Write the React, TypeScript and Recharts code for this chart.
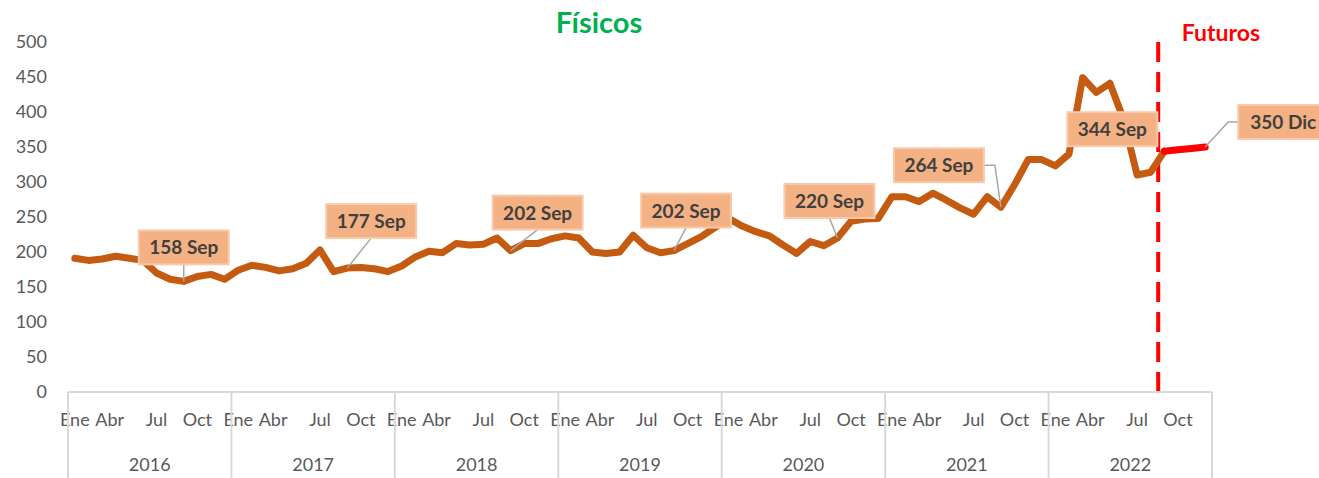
import React from 'react'
import { LineChart, Line, XAxis, YAxis, ReferenceLine } from 'recharts'

const MONTHS = ['Ene', 'Feb', 'Mar', 'Abr', 'May', 'Jun', 'Jul', 'Ago', 'Sep', 'Oct', 'Nov', 'Dic']
const YEARS = [2016, 2017, 2018, 2019, 2020, 2021, 2022]
const SHOWN_MONTHS = ['Ene', 'Abr', 'Jul', 'Oct']
const Y_TICKS = [0, 50, 100, 150, 200, 250, 300, 350, 400, 450, 500]

// physical prices, Jan..Dec of each year (2022 ends in Sep)
const FISICOS_2016 = [191, 188, 190, 194, 191, 188, 170, 161, 158, 165, 168, 161]
const FISICOS_2017 = [174, 181, 178, 173, 176, 184, 203, 172, 177, 178, 176, 172]
const FISICOS_2018 = [180, 193, 201, 199, 212, 210, 211, 220, 202, 212, 212, 219]
const FISICOS_2019 = [223, 220, 200, 198, 200, 224, 206, 199, 202, 212, 222, 235]
const FISICOS_2020 = [248, 237, 229, 223, 210, 198, 215, 209, 220, 244, 247, 248]
const FISICOS_2021 = [279, 279, 272, 284, 274, 263, 254, 279, 264, 296, 332, 332]
const FISICOS_2022 = [323, 340, 449, 428, 441, 390, 310, 314, 344]
// futures, Sep..Dec 2022
const FUTUROS_2022 = [344, 346, 348, 350]

const FISICOS = [
  ...FISICOS_2016, ...FISICOS_2017, ...FISICOS_2018, ...FISICOS_2019,
  ...FISICOS_2020, ...FISICOS_2021, ...FISICOS_2022,
]
const FUT_START = FISICOS.length - 1

const data = YEARS.flatMap((y, yi) =>
  MONTHS.map((m, mi) => {
    const i = yi * 12 + mi
    return {
      key: `${m} ${y}`,
      month: m,
      fisicos: i < FISICOS.length ? FISICOS[i] : null,
      futuros: i >= FUT_START ? FUTUROS_2022[i - FUT_START] : null,
    }
  })
)

// layout
const W = 1319
const H = 478
const LEFT = 68
const RIGHT = 107
const TOP = 42
const BOTTOM = 86
const STEP = (W - LEFT - RIGHT) / data.length

const FONT = 'Lato, "Open Sans", sans-serif'
const AXIS_GRAY = '#595959'
const SEP_GRAY = '#d9d9d9'

// callout labels: offset of the box centre from the point, leader style
const CALLOUTS = [
  { key: 'Sep 2016', series: 'fisicos', dx: 0, dy: -34, leader: 'bottom' },
  { key: 'Sep 2017', series: 'fisicos', dx: 24, dy: -47, leader: 'bottom' },
  { key: 'Sep 2018', series: 'fisicos', dx: 27, dy: -38, leader: 'bottom' },
  { key: 'Sep 2019', series: 'fisicos', dx: 12, dy: -40, leader: 'bottom' },
  { key: 'Sep 2020', series: 'fisicos', dx: -8, dy: -37, leader: 'bottom' },
  { key: 'Sep 2021', series: 'fisicos', dx: -62, dy: -42, leader: 'right' },
  { key: 'Sep 2022', series: 'fisicos', dx: -52, dy: -22, leader: 'none' },
  { key: 'Dic 2022', series: 'futuros', dx: 78, dy: -25, leader: 'left' },
]

const makeCallout = (series: string) => (props: any) => {
  const { cx, cy, payload, index, value } = props
  const cfg = CALLOUTS.find((c) => c.series === series && payload && c.key === payload.key)
  if (!cfg || cy == null || isNaN(cy)) return <g key={`c-${series}-${index}`} />
  const w = 90
  const h = 34
  const bx = cx + cfg.dx
  const by = cy + cfg.dy
  let leader: string | null = null
  if (cfg.leader === 'bottom') leader = `M${bx},${by + h / 2} L${cx},${cy}`
  if (cfg.leader === 'right') leader = `M${bx + w / 2},${by} L${bx + w / 2 + 11},${by} L${cx},${cy}`
  if (cfg.leader === 'left') leader = `M${bx - w / 2},${by} L${bx - w / 2 - 10},${by} L${cx},${cy}`
  const v = Array.isArray(value) ? value[1] : value
  return (
    <g key={`c-${series}-${index}`}>
      {leader && <path d={leader} fill="none" stroke="#a6a6a6" strokeWidth={1.5} />}
      <rect x={bx - w / 2} y={by - h / 2} width={w} height={h} fill="#f4b183" stroke="#f8cbad" strokeWidth={2} />
      <text
        x={bx}
        y={by + 7}
        textAnchor="middle"
        fontFamily={FONT}
        fontWeight="bold"
        fontSize={19}
        fill="#404040"
      >
        {`${v} ${payload.month}`}
      </text>
    </g>
  )
}

const MonthTick = (props: any) => {
  const { x, y, payload } = props
  const i = payload.index
  const m = MONTHS[i % 12]
  const year = YEARS[Math.floor(i / 12)]
  return (
    <g>
      {SHOWN_MONTHS.includes(m) && (
        <text
          x={x + (m === 'Abr' ? -6 : 0)}
          y={y + 34}
          textAnchor="middle"
          fontFamily={FONT}
          fontSize={18}
          fill={AXIS_GRAY}
        >
          {m}
        </text>
      )}
      {m === 'Ene' && <line x1={x - STEP / 2} x2={x - STEP / 2} y1={y} y2={H} stroke={SEP_GRAY} strokeWidth={2} />}
      {m === 'Dic' && i === data.length - 1 && (
        <line x1={x + STEP / 2} x2={x + STEP / 2} y1={y} y2={H} stroke={SEP_GRAY} strokeWidth={2} />
      )}
      {m === 'Jul' && (
        <text x={x - STEP / 2} y={y + 79} textAnchor="middle" fontFamily={FONT} fontSize={18} fill={AXIS_GRAY}>
          {year}
        </text>
      )}
    </g>
  )
}

export default function App() {
  return (
    <div style={{ position: 'absolute', left: 0, top: 0, width: W, height: H, background: '#fff' }}>
      <LineChart width={W} height={H} data={data} margin={{ top: TOP, right: RIGHT, bottom: 0, left: 0 }}>
        <XAxis
          dataKey="key"
          type="category"
          interval={0}
          height={BOTTOM}
          padding={{ left: STEP / 2, right: STEP / 2 }}
          axisLine={{ stroke: SEP_GRAY, strokeWidth: 2 }}
          tickLine={false}
          tickSize={0}
          tickMargin={0}
          tick={<MonthTick />}
        />
        <YAxis
          width={LEFT}
          domain={[0, 500]}
          ticks={Y_TICKS}
          interval={0}
          axisLine={false}
          tickLine={false}
          tickMargin={15}
          tick={{ fontFamily: FONT, fontSize: 18, fill: AXIS_GRAY }}
        />
        <ReferenceLine
          x="Sep 2022"
          stroke="#ff0000"
          shape={(p: any) => (
            <line
              x1={p.x1 - STEP * 0.45}
              x2={p.x2 - STEP * 0.45}
              y1={p.y1}
              y2={p.y2}
              stroke="#ff0000"
              strokeWidth={4}
              strokeDasharray="20 10"
            />
          )}
        />
        <Line
          dataKey="fisicos"
          stroke="#c55a11"
          strokeWidth={7}
          strokeLinejoin="round"
          strokeLinecap="round"
          dot={makeCallout('fisicos')}
          activeDot={false}
          isAnimationActive={false}
        />
        <Line
          dataKey="futuros"
          stroke="#ff0000"
          strokeWidth={7}
          strokeLinejoin="round"
          strokeLinecap="round"
          dot={makeCallout('futuros')}
          activeDot={false}
          isAnimationActive={false}
        />
      </LineChart>
      <svg width={W} height={H} style={{ position: 'absolute', left: 0, top: 0, pointerEvents: 'none' }}>
        <text x={599} y={33} textAnchor="middle" fontFamily={FONT} fontWeight="bold" fontSize={29} fill="#00b050">
          Físicos
        </text>
        <text x={1221} y={41} textAnchor="middle" fontFamily={FONT} fontWeight="bold" fontSize={23} fill="#ff0000">
          Futuros
        </text>
      </svg>
    </div>
  )
}
